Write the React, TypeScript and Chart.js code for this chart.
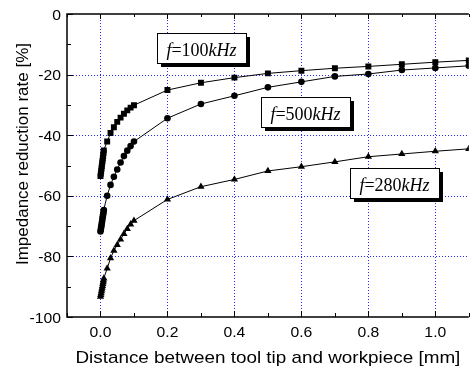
import React, { useEffect, useRef } from 'react';
import { Chart, registerables } from 'chart.js';

Chart.register(...registerables);

const distance = [0, 0.001, 0.002, 0.003, 0.004, 0.005, 0.006, 0.007, 0.008, 0.009, 0.01, 0.02, 0.03, 0.04, 0.05, 0.06, 0.07, 0.08, 0.09, 0.1, 0.2, 0.3, 0.4, 0.5, 0.6, 0.7, 0.8, 0.9, 1.0, 1.1];
const rate100 = [-53.5, -52.7, -51.9, -51.0, -50.2, -49.3, -48.5, -47.6, -46.8, -45.9, -45.0, -42.1, -39.3, -37.4, -35.6, -34.2, -32.9, -31.8, -30.9, -30.1, -25.1, -22.7, -21.0, -19.6, -18.7, -17.9, -17.3, -16.6, -15.9, -15.3];
const rate500 = [-71.8, -71.1, -70.4, -69.7, -69.0, -68.3, -67.5, -66.8, -66.1, -65.4, -64.7, -60.0, -56.4, -53.7, -51.3, -49.0, -46.9, -45.1, -43.6, -42.1, -34.4, -29.7, -27.0, -24.2, -22.4, -20.6, -19.8, -18.5, -17.8, -17.1];
const rate280 = [-93.3, -92.7, -92.1, -91.5, -90.9, -90.3, -89.7, -89.1, -88.5, -87.9, -87.3, -84.0, -80.6, -78.1, -76.2, -74.4, -72.6, -70.9, -69.4, -68.2, -61.2, -57.0, -54.6, -51.8, -50.4, -48.8, -47.1, -46.2, -45.3, -44.5];

const xTicks = [0, 0.2, 0.4, 0.6, 0.8, 1.0];
const xTickLabels = ['0.0', '0.2', '0.4', '0.6', '0.8', '1.0'];
const xMinorTicks = [-0.1, 0, 0.1, 0.2, 0.3, 0.4, 0.5, 0.6, 0.7, 0.8, 0.9, 1.0, 1.1];
const yTicks = [-100, -80, -60, -40, -20, 0];
const yTickLabels = ['-100', '-80', '-60', '-40', '-20', '0'];
const yMinorTicks = [-100, -90, -80, -70, -60, -50, -40, -30, -20, -10, 0];

const labelFreqs = ['100', '500', '280'];
const labelAnchorX = [0.17, 0.48, 0.745];
const labelAnchorY = [-6.4, -27.5, -50.9];

const xTitle = 'Distance between tool tip and workpiece [mm]';
const yTitle = 'Impedance reduction rate [%]';

const SANS = "'Liberation Sans', Arial, sans-serif";
const SERIF = "'Liberation Serif', 'Times New Roman', serif";

function stretchedText(ctx: CanvasRenderingContext2D, text: string, x: number, y: number, sx: number, align: 'left' | 'center' | 'right') {
  ctx.save();
  ctx.translate(x, y);
  ctx.scale(sx, 1);
  ctx.textAlign = align;
  ctx.fillText(text, 0, 0);
  ctx.restore();
}

const decorPlugin = {
  id: 'decor',
  beforeDatasetsDraw(chart: any) {
    const { ctx, chartArea: a, scales } = chart;
    const xs = scales.x, ys = scales.y;
    ctx.save();
    ctx.strokeStyle = 'rgba(0,0,255,0.85)';
    ctx.lineWidth = 1;
    ctx.setLineDash([1, 2]);
    for (const v of xTicks) {
      const px = Math.round(xs.getPixelForValue(v)) + 0.5;
      ctx.beginPath(); ctx.moveTo(px, a.top); ctx.lineTo(px, a.bottom); ctx.stroke();
    }
    for (const v of yTicks) {
      if (v === -100 || v === 0) continue;
      const py = Math.round(ys.getPixelForValue(v)) + 0.5;
      ctx.beginPath(); ctx.moveTo(a.left, py); ctx.lineTo(a.right, py); ctx.stroke();
    }
    ctx.restore();
  },
  afterDatasetsDraw(chart: any) {
    const { ctx, chartArea: a, scales } = chart;
    const xs = scales.x, ys = scales.y;
    ctx.save();
    ctx.setLineDash([]);
    ctx.strokeStyle = '#000';
    ctx.lineWidth = 1.5;
    ctx.beginPath();
    ctx.moveTo(a.right, a.top); ctx.lineTo(a.left, a.top);
    ctx.lineTo(a.left, a.bottom); ctx.lineTo(a.right, a.bottom);
    ctx.stroke();
    ctx.lineWidth = 1;
    for (const v of xMinorTicks) {
      const px = Math.round(xs.getPixelForValue(v)) + 0.5;
      const len = xTicks.includes(v) ? 6 : 4;
      ctx.beginPath(); ctx.moveTo(px, a.bottom); ctx.lineTo(px, a.bottom - len); ctx.stroke();
      ctx.beginPath(); ctx.moveTo(px, a.top); ctx.lineTo(px, a.top + len - 1); ctx.stroke();
    }
    for (const v of yMinorTicks) {
      const py = Math.round(ys.getPixelForValue(v)) + 0.5;
      const len = yTicks.includes(v) ? 6 : 4;
      ctx.beginPath(); ctx.moveTo(a.left, py); ctx.lineTo(a.left + len, py); ctx.stroke();
    }

    // tick labels
    ctx.fillStyle = '#000';
    ctx.font = `15px ${SANS}`;
    ctx.textBaseline = 'alphabetic';
    xTicks.forEach((v, i) => {
      stretchedText(ctx, xTickLabels[i], xs.getPixelForValue(v), a.bottom + 20, 1.05, 'center');
    });
    yTicks.forEach((v, i) => {
      stretchedText(ctx, yTickLabels[i], a.left - 6, ys.getPixelForValue(v) + 5.5, 1.05, 'right');
    });

    // labels
    for (let i = 0; i < labelFreqs.length; i++) {
      const x = Math.round(xs.getPixelForValue(labelAnchorX[i]));
      const y = Math.round(ys.getPixelForValue(labelAnchorY[i]));
      const w = 89, h = 30;
      ctx.fillStyle = '#000';
      ctx.fillRect(x + 4, y + 4, w, h);
      ctx.fillStyle = '#fff';
      ctx.fillRect(x, y, w, h);
      ctx.strokeStyle = '#000';
      ctx.lineWidth = 1;
      ctx.strokeRect(x + 0.5, y + 0.5, w, h);
      const parts: [string, string][] = [
        ['f', `italic 18px ${SERIF}`],
        ['=' + labelFreqs[i], `18px ${SERIF}`],
        ['kHz', `italic 18px ${SERIF}`],
      ];
      let total = 0;
      for (const [t, f] of parts) { ctx.font = f; total += ctx.measureText(t).width; }
      let tx = x + (w - total) / 2;
      ctx.fillStyle = '#000';
      ctx.textBaseline = 'alphabetic';
      ctx.textAlign = 'left';
      for (const [t, f] of parts) {
        ctx.font = f;
        ctx.fillText(t, tx, y + 23);
        tx += ctx.measureText(t).width;
      }
    }

    // axis titles
    ctx.fillStyle = '#000';
    ctx.font = `17px ${SANS}`;
    ctx.textBaseline = 'alphabetic';
    stretchedText(ctx, xTitle, (a.left + a.right) / 2, 363, 1.11, 'center');
    ctx.save();
    ctx.translate(28, 154);
    ctx.rotate(-Math.PI / 2);
    ctx.font = `17px ${SANS}`;
    ctx.textAlign = 'center';
    ctx.fillText(yTitle, 0, 0);
    ctx.restore();
    ctx.restore();
  },
};

export default function App() {
  const ref = useRef<HTMLCanvasElement>(null);
  useEffect(() => {
    if (!ref.current) return;
    const common = {
      borderColor: '#000',
      backgroundColor: '#000',
      borderWidth: 1,
      pointBorderWidth: 0,
      tension: 0,
      fill: false,
    };
    const chart = new Chart(ref.current, {
      type: 'line',
      data: {
        datasets: [
          { ...common, label: 'f=100kHz', data: distance.map((d, i) => ({ x: d, y: rate100[i] })), pointStyle: 'rect', pointRadius: 4.2 },
          { ...common, label: 'f=500kHz', data: distance.map((d, i) => ({ x: d, y: rate500[i] })), pointStyle: 'circle', pointRadius: 3.3 },
          { ...common, label: 'f=280kHz', data: distance.map((d, i) => ({ x: d, y: rate280[i] })), pointStyle: 'triangle', pointRadius: 4.2 },
        ],
      },
      options: {
        responsive: false,
        animation: false,
        devicePixelRatio: 1,
        layout: { padding: { top: 14, right: 0, left: 0, bottom: 0 } },
        plugins: { legend: { display: false }, tooltip: { enabled: false } },
        scales: {
          x: {
            type: 'linear',
            min: -0.1,
            max: 1.1,
            grid: { display: false },
            border: { display: false },
            afterBuildTicks: (s: any) => { s.ticks = xTicks.map((v) => ({ value: v })); },
            afterFit: (s: any) => { s.height = 53; },
            ticks: { display: false },
          },
          y: {
            type: 'linear',
            min: -100,
            max: 0,
            grid: { display: false },
            border: { display: false },
            afterBuildTicks: (s: any) => { s.ticks = yTicks.map((v) => ({ value: v })); },
            afterFit: (s: any) => { s.width = 67; },
            ticks: { display: false },
          },
        },
      },
      plugins: [decorPlugin],
    } as any);
    return () => chart.destroy();
  }, []);
  return (
    <div style={{ position: 'fixed', left: 0, top: 0, width: 473, height: 370, overflow: 'hidden', background: '#fff' }}>
      <canvas ref={ref} width={473} height={370} style={{ display: 'block' }} />
    </div>
  );
}
